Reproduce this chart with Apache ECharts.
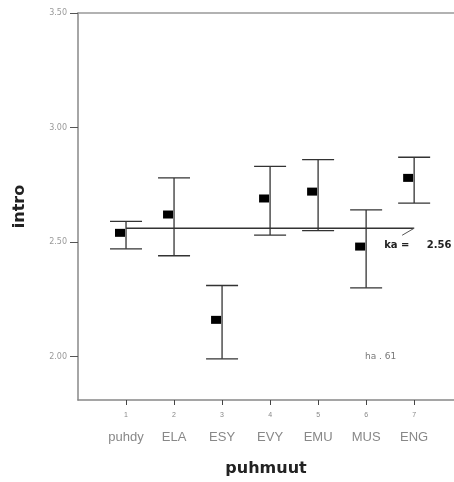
<!DOCTYPE html>
<html>
<head>
<meta charset="utf-8">
<script src="https://cdn.jsdelivr.net/npm/echarts@6/dist/echarts.min.js"></script>
<style>
  html, body { margin: 0; padding: 0; background: #fff; }
  #chart { width: 454px; height: 482px; }
</style>
</head>
<body>
<div id="chart"></div>
<script>
// Group codes and names on the x axis
const codes = [1, 2, 3, 4, 5, 6, 7];
const categories = ['puhdy', 'ELA', 'ESY', 'EVY', 'EMU', 'MUS', 'ENG'];
// Group means of "intro" and their interval ends
const means = [2.54, 2.62, 2.16, 2.69, 2.72, 2.48, 2.78];
const upper = [2.59, 2.78, 2.31, 2.83, 2.86, 2.64, 2.87];
const lower = [2.47, 2.44, 1.99, 2.53, 2.55, 2.30, 2.67];
// Overall mean reference line
const overallMean = 2.56;
const overallLabel = 'ka =     2.56';
const noteText = 'ha . 61';
// Y tick labels
const yTicks = [2.00, 2.50, 3.00, 3.50];

const chart = echarts.init(document.getElementById('chart'), null, { renderer: 'canvas' });

const meanData = codes.map((c, i) => [c, means[i]]);
const barData = codes.map((c, i) => [c, lower[i], upper[i]]);

const option = {
  animation: false,
  backgroundColor: '#fff',
  textStyle: { fontFamily: 'Liberation Sans' },
  grid: { left: 78, top: 13, bottom: 82, right: 0 },
  xAxis: [
    {
      type: 'value', min: 0, max: 7.83, interval: 1,
      name: 'puhmuut', nameLocation: 'middle', nameGap: 61,
      nameTextStyle: { fontSize: 16, fontWeight: 'bold', color: '#222', fontFamily: 'DejaVu Sans' },
      axisLine: { show: true, lineStyle: { color: '#888', width: 1.5 } },
      axisTick: { show: true, length: 5, customValues: codes, lineStyle: { color: '#444', width: 1 } },
      splitLine: { show: false },
      axisLabel: {
        customValues: codes, margin: 5,
        formatter: v => `{n|${v}}\n{c|${categories[codes.indexOf(v)]}}`,
        rich: {
          n: { fontSize: 7, lineHeight: 20, color: '#888', fontFamily: 'Liberation Sans' },
          c: { fontSize: 13, lineHeight: 24, color: '#888', fontFamily: 'Liberation Sans' }
        }
      }
    },
    {
      // top frame line
      type: 'value', position: 'top', min: 0, max: 7.83,
      axisLine: { show: true, lineStyle: { color: '#999', width: 1.5 } },
      axisTick: { show: false }, axisLabel: { show: false }, splitLine: { show: false }
    }
  ],
  yAxis: {
    type: 'value', min: 1.81, max: 3.5,
    name: 'intro', nameLocation: 'middle', nameGap: 50, nameRotate: 90,
    nameTextStyle: { fontSize: 16, fontWeight: 'bold', color: '#222', fontFamily: 'DejaVu Sans' },
    axisLine: { show: true, lineStyle: { color: '#888', width: 1.5 } },
    axisTick: { show: true, length: 8, customValues: yTicks, lineStyle: { color: '#555', width: 1 } },
    splitLine: { show: false },
    axisLabel: {
      customValues: yTicks, margin: 11, fontSize: 8, color: '#999', fontFamily: 'DejaVu Sans',
      formatter: v => v.toFixed(2)
    }
  },
  series: [
    {
      // overall mean line with a leader to its label
      type: 'custom',
      data: [[codes[0], codes[codes.length - 1], overallMean]],
      z: 2,
      renderItem: (params, api) => {
        const a = api.coord([api.value(0), api.value(2)]);
        const b = api.coord([api.value(1), api.value(2)]);
        return {
          type: 'group',
          children: [
            { type: 'line', shape: { x1: a[0], y1: a[1], x2: b[0], y2: b[1] },
              style: { stroke: '#333', lineWidth: 1.3 } },
            { type: 'line', shape: { x1: b[0], y1: b[1], x2: b[0] - 12, y2: b[1] + 7 },
              style: { stroke: '#555', lineWidth: 1 } },
            { type: 'text', x: b[0] - 30, y: b[1] + 17,
              style: { text: overallLabel, fill: '#222', fontSize: 10, fontWeight: 'bold',
                       fontFamily: 'DejaVu Sans', verticalAlign: 'middle', align: 'left' } }
          ]
        };
      }
    },
    {
      // interval bars with caps
      type: 'custom',
      data: barData,
      z: 3,
      renderItem: (params, api) => {
        const lo = api.coord([api.value(0), api.value(1)]);
        const hi = api.coord([api.value(0), api.value(2)]);
        const w = 16;
        const st = { stroke: '#333', lineWidth: 1.3 };
        return {
          type: 'group',
          children: [
            { type: 'line', shape: { x1: lo[0], y1: lo[1], x2: hi[0], y2: hi[1] }, style: st },
            { type: 'line', shape: { x1: hi[0] - w, y1: hi[1], x2: hi[0] + w, y2: hi[1] }, style: st },
            { type: 'line', shape: { x1: lo[0] - w, y1: lo[1], x2: lo[0] + w, y2: lo[1] }, style: st }
          ]
        };
      }
    },
    {
      type: 'scatter',
      data: meanData,
      symbol: 'rect',
      symbolSize: [10, 8],
      symbolOffset: [-6, 0],
      itemStyle: { color: '#000', opacity: 1 },
      z: 4
    }
  ],
  graphic: [
    { type: 'text', left: 365, top: 352,
      style: { text: noteText, fill: '#777', fontSize: 9, fontFamily: 'DejaVu Sans' } }
  ]
};

chart.setOption(option);
</script>
</body>
</html>
